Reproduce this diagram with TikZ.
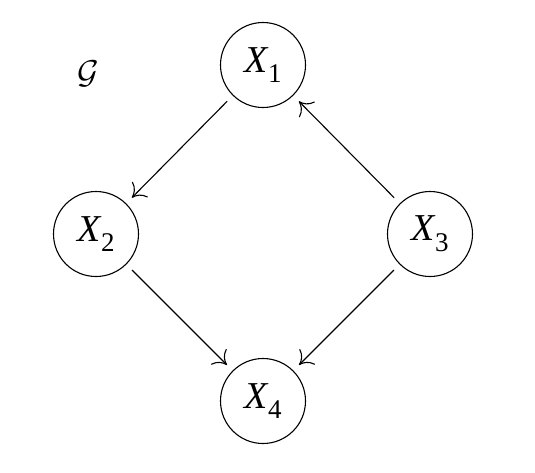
\documentclass[tikz,border=0pt]{standalone}
\usepackage{fontspec}
\setmainfont{Liberation Serif}
\usetikzlibrary{arrows.meta}
\newcommand{\Xn}[1]{\textit{X}\kern-0.02em\raisebox{-0.28em}{\fontsize{27}{27}\selectfont #1}}
\begin{document}
\begin{tikzpicture}[x=1pt,y=-1pt,
  var/.style={circle,draw,line width=1.1pt,minimum size=85pt,inner sep=0pt,outer sep=8.5pt,font=\fontsize{38}{38}\selectfont},
  edge/.style={line width=1.1pt,-{To[length=12pt,width=22pt,line width=1.1pt]}}]
\useasboundingbox (0,0) rectangle (535,472);
\node[var] (x1) at (263,65) {\Xn{1}};
\node[var] (x2) at (96,234) {\Xn{2}};
\node[var] (x3) at (430,234) {\Xn{3}};
\node[var] (x4) at (263,401) {\Xn{4}};
\node (g) at (88,74) {\scalebox{3.3}{$\mathcal{G}$}};
\draw[edge] (x1) -- (x2);
\draw[edge] (x3) -- (x1);
\draw[edge] (x3) -- (x4);
\draw[edge] (x2) -- (x4);
\end{tikzpicture}
\end{document}
